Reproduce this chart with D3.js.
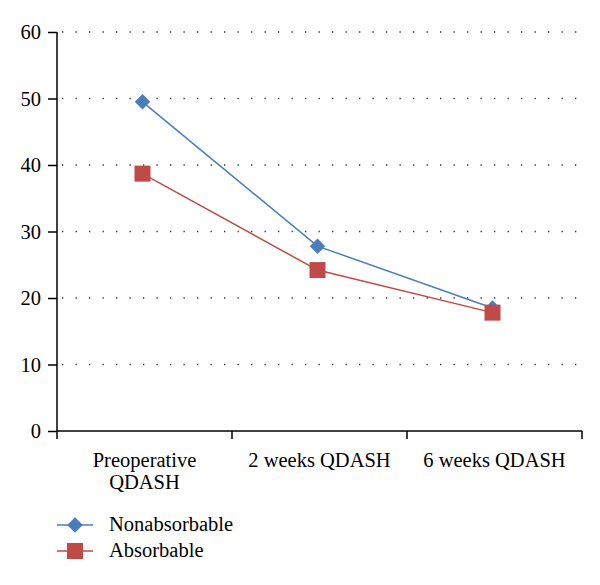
<!DOCTYPE html>
<html><head><meta charset="utf-8">
<script src="https://cdn.jsdelivr.net/npm/d3@7"></script>
<style>body{margin:0;background:#fff}svg{display:block}</style>
</head><body><svg id="c" width="600" height="585"></svg>
<script>
const categories = ["Preoperative\nQDASH", "2 weeks QDASH", "6 weeks QDASH"];
const nonabsorbable = [49.5, 27.8, 18.5];
const absorbable = [38.7, 24.2, 17.8];
const yTicks = [0, 10, 20, 30, 40, 50, 60];
const seriesNames = ["Nonabsorbable", "Absorbable"];
const colors = ["#4a7ebb", "#be4b48"];
const FONT = "Liberation Serif";
const FS = 20.5;

const svg = d3.select("#c");
const x = d3.scaleBand().domain(categories).range([57, 582]);
const y = d3.scaleLinear().domain([0, 60]).range([431, 32]);

// grid
svg.append("g").selectAll("line").data(yTicks.filter(d => d > 0)).join("line")
  .attr("x1", 62).attr("x2", 582).attr("y1", d => y(d)).attr("y2", d => y(d))
  .attr("stroke", "#333").attr("stroke-width", 1.3).attr("stroke-dasharray", "1.3,12.2");

// y axis
const ya = svg.append("g").attr("transform", "translate(57,0)")
  .call(d3.axisLeft(y).tickValues(yTicks).tickSize(9).tickPadding(7));
ya.attr("font-family", null).attr("font-size", null);
ya.select(".domain").attr("stroke", "#000").attr("stroke-width", 1.5).attr("d", "M0,32V431");
ya.selectAll(".tick line").attr("stroke", "#000").attr("stroke-width", 1.5);
ya.selectAll("text").attr("fill", "#000").attr("font-family", FONT).attr("font-size", FS);

// x axis
const xa = svg.append("g").attr("transform", "translate(0,431)");
xa.append("line").attr("x1", 57).attr("x2", 582).attr("stroke", "#000").attr("stroke-width", 1.5);
const bounds = [57].concat(categories.map(c => x(c) + x.bandwidth()));
xa.selectAll(".tk").data(bounds).join("line").attr("class", "tk")
  .attr("x1", d => d).attr("x2", d => d).attr("y1", 0).attr("y2", 8)
  .attr("stroke", "#000").attr("stroke-width", 1.5);
categories.forEach(c => {
  const t = xa.append("text").attr("text-anchor", "middle").attr("font-size", FS)
    .attr("font-family", FONT)
    .attr("transform", `translate(${x(c) + x.bandwidth() / 2},36)`);
  c.split("\n").forEach((s, i) => t.append("tspan").attr("x", 0).attr("dy", i ? 21.5 : 0).text(s));
});

const cx = c => x(c) + x.bandwidth() / 2 - 2;
const line = d3.line().x(d => cx(d.c)).y(d => y(d.v));
const data = [nonabsorbable, absorbable].map(arr => arr.map((v, i) => ({ c: categories[i], v })));

data.forEach((s, k) => {
  svg.append("path").datum(s).attr("d", line).attr("fill", "none")
    .attr("stroke", colors[k]).attr("stroke-width", 1.5);
});
const diamond = d3.symbol().type(d3.symbolSquare).size(120);
svg.append("g").selectAll("path").data(data[0]).join("path")
  .attr("d", diamond).attr("transform", d => `translate(${cx(d.c)},${y(d.v)}) rotate(45)`)
  .attr("fill", colors[0]);
svg.append("g").selectAll("rect").data(data[1]).join("rect")
  .attr("x", d => cx(d.c) - 8).attr("y", d => y(d.v) - 8).attr("width", 16).attr("height", 16)
  .attr("fill", colors[1]);

// legend
const lg = svg.append("g");
seriesNames.forEach((n, k) => {
  const yy = 525 + k * 26;
  lg.append("line").attr("x1", 57).attr("x2", 93).attr("y1", yy).attr("y2", yy)
    .attr("stroke", colors[k]).attr("stroke-width", 1.5);
  if (k === 0) lg.append("path").attr("d", diamond).attr("transform", `translate(75,${yy}) rotate(45)`).attr("fill", colors[0]);
  else lg.append("rect").attr("x", 67).attr("y", yy - 8).attr("width", 16).attr("height", 16).attr("fill", colors[1]);
  lg.append("text").attr("x", 109).attr("y", yy + 6).attr("font-size", FS).attr("font-family", FONT).text(n);
});
</script></body></html>
